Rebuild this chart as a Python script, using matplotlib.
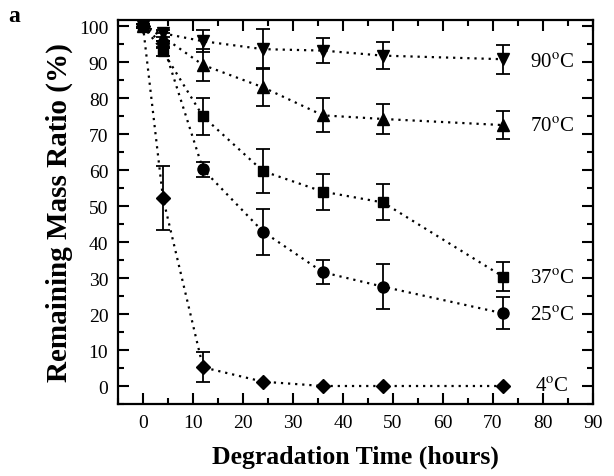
import numpy as np
import matplotlib
matplotlib.use('Agg')
import matplotlib.pyplot as plt
from matplotlib.ticker import MultipleLocator

plt.rcParams['font.family'] = ['Liberation Serif', 'DejaVu Serif']
plt.rcParams['mathtext.fontset'] = 'stix'

# 数据
t = [0, 4, 12, 24, 36, 48, 72]
m90 = [100, 98, 95.8, 93.6, 93.2, 91.8, 90.8]
e90 = [0.5, 1.0, 3.0, 5.5, 3.5, 3.7, 4.0]
m70 = [100, 97, 89.2, 83.0, 75.2, 74.2, 72.5]
e70 = [0.5, 1.0, 4.5, 5.3, 4.7, 4.2, 3.8]
m37 = [100, 93, 74.9, 59.7, 54.0, 51.0, 30.4]
e37 = [0.5, 1.2, 5.2, 6.1, 5.0, 5.0, 4.0]
m25 = [100, 95, 60.2, 42.9, 31.6, 27.6, 20.2]
e25 = [0.5, 1.0, 2.0, 6.4, 3.3, 6.3, 4.4]
m4 = [100, 52.2, 5.2, 1.2, 0, 0, 0]
e4 = [0.5, 8.8, 4.2, 0, 0, 0, 0]

series = [(m90, e90, 'v', '90$^{\\rm o}$C', 90),
          (m70, e70, '^', '70$^{\\rm o}$C', 72),
          (m37, e37, 's', '37$^{\\rm o}$C', 30),
          (m25, e25, 'o', '25$^{\\rm o}$C', 19.5),
          (m4, e4, 'D', '4$^{\\rm o}$C', 0)]

fig = plt.figure(figsize=(6.14, 4.77), dpi=100)
ax = fig.add_axes([118/614, 72/477, 475/614, 384/477])

for m, e, mk, lab, ly in series:
    ms = 7 if mk in ('D', 's') else 8
    ax.plot(t, m, marker=mk, color='black', ls=(0, (1, 2.2)), lw=1.6, ms=ms)
    # 只画非零误差
    tt = [a for a, b in zip(t, e) if b > 0]
    mm = [a for a, b in zip(m, e) if b > 0]
    ee = [b for b in e if b > 0]
    ax.errorbar(tt, mm, yerr=ee, fmt='none', ecolor='black',
                capsize=5, elinewidth=1.3, capthick=1.3)
    ax.text(77.3 if ly > 0 else 78.4, ly, lab, fontsize=15, va='center', ha='left')

ax.set_xlim(-5, 90)
ax.set_ylim(-5, 101.7)
ax.xaxis.set_major_locator(MultipleLocator(10))
ax.xaxis.set_minor_locator(MultipleLocator(5))
ax.yaxis.set_major_locator(MultipleLocator(10))
ax.yaxis.set_minor_locator(MultipleLocator(5))
ax.tick_params(which='both', direction='in', top=True, right=True, width=1.5)
ax.tick_params(which='major', length=8, labelsize=14, pad=7)
ax.tick_params(which='minor', length=4)
for s in ax.spines.values():
    s.set_linewidth(1.6)

ax.set_xlabel('Degradation Time (hours)', fontsize=18.5, fontweight='bold', labelpad=10)
ax.set_ylabel('Remaining Mass Ratio (%)', fontsize=21, fontweight='bold', labelpad=4)
fig.text(8/614, 1 - 22/477, 'a', fontsize=17, fontweight='bold')

fig.savefig('out.png', dpi=100)
